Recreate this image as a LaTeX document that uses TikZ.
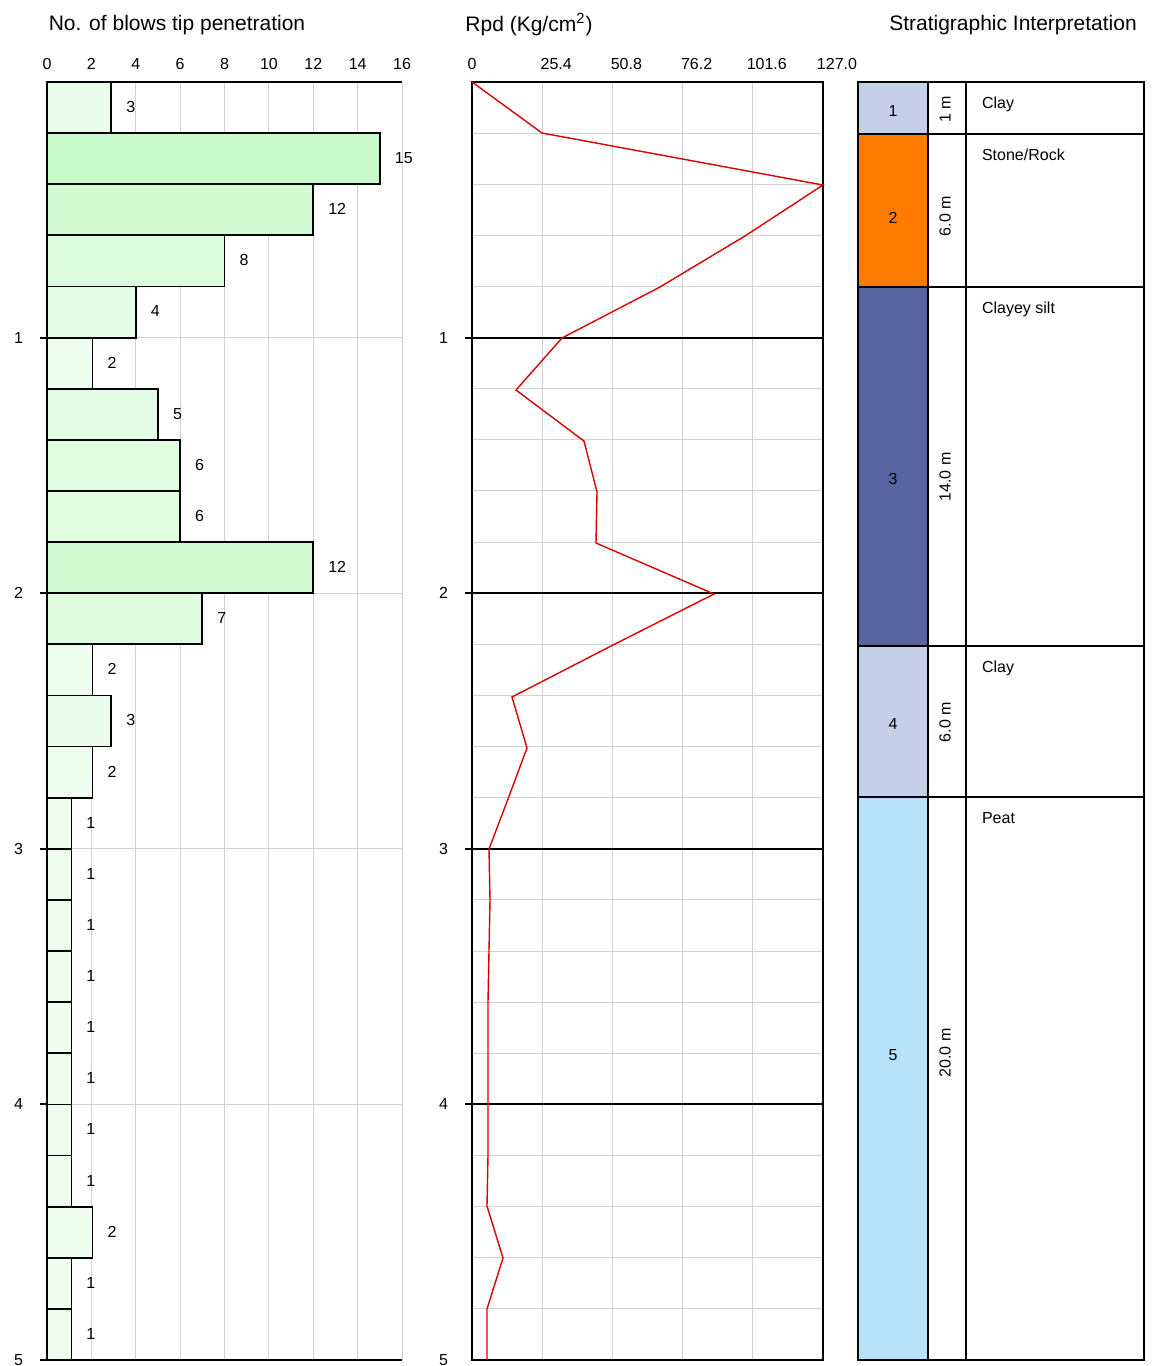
\documentclass[tikz,border=0pt]{standalone}
\usepackage{fontspec}
\setmainfont{Liberation Sans}
\begin{document}
\begin{tikzpicture}[x=0.5pt,y=-0.5pt,
  grid/.style={draw=black!18,line width=0.5pt},
  ax/.style={draw=black,line width=1pt},
  tick/.style={font=\fontsize{8}{9}\selectfont},
  ttl/.style={font=\fontsize{10.5}{12}\selectfont},
  bar/.style={draw=black,line width=0.9pt},
  lbl/.style={font=\fontsize{8}{9}\selectfont,anchor=west},
  strat/.style={draw=black,line width=0.9pt},
  st/.style={font=\fontsize{8}{9}\selectfont}]
\definecolor{mygreen}{RGB}{170,245,170}
\definecolor{lay1}{RGB}{197,208,232}
\definecolor{lay2}{RGB}{255,122,0}
\definecolor{lay3}{RGB}{88,100,160}
\definecolor{lay5}{RGB}{183,226,250}
\useasboundingbox (0,0) rectangle (1152,1366);
% ---- left chart
\node[ttl] (t1) at (177,25) {No. of blows tip penetration};
\foreach \v in {2,4,...,16} \draw[grid] (47+\v*22.19,82) -- (47+\v*22.19,1360);
\foreach \d in {1,2,3,4} \draw[grid] (47,82+\d*255.6) -- (402,82+\d*255.6);
\foreach \v in {0,2,...,16} \node[tick] (lx\v) at (47+\v*22.19,64) {\v};
\foreach \d in {1,2,3,4,5} {\draw[ax] (40,82+\d*255.6) -- (47,82+\d*255.6);
  \node[tick,anchor=east] (ly\d) at (30,82+\d*255.6) {\d};}
\foreach [count=\i from 0] \v in {3,15,12,8,4,2,5,6,6,12,7,2,3,2,1,1,1,1,1,1,1,1,2,1,1} {
  \pgfmathsetmacro\p{15+\v*3.3}
  \pgfmathsetmacro\w{\v==3 ? 2.9 : (\v==2 ? 2.05 : (\v==1 ? 1.1 : \v))}
  \draw[bar,fill=mygreen!\p!white] (47,82+\i*51.12) rectangle (47+\w*22.19,82+\i*51.12+51.12);
  \node[lbl] (bl\i) at (47+\w*22.19+8,82+\i*51.12+25) {\v};}
\draw[ax] (47,82) -- (402,82);
\draw[ax] (47,82) -- (47,1360) -- (402,1360);
% ---- middle chart
\node[ttl] (t2) at (529,25) {Rpd (Kg/cm\textsuperscript{2})};
\node[tick] (mx0) at (472,64) {0};
\foreach \x/\t in {1/25.4,2/50.8,3/76.2,4/101.6,5/127.0} \node[tick] (mx\x) at (486+\x*70.2,64) {\t};
\foreach \x in {1,...,4} \draw[grid] (472+\x*70.2,82) -- (472+\x*70.2,1360);
\foreach \i in {1,...,24} \draw[grid] (472,82+\i*51.12) -- (823,82+\i*51.12);
\foreach \d in {1,2,3,4} {\draw[ax] (465,82+\d*255.6) -- (823,82+\d*255.6);
  \node[tick,anchor=east] (my\d) at (455,82+\d*255.6) {\d};}
\node[tick,anchor=east] (my5) at (455,1360) {5};
\draw[ax] (472,82) rectangle (823,1360);
\draw[red!85!black,line width=0.7pt] (472,82) -- (542,133) -- (823,185) -- (745,236) -- (660,287) -- (562,338) -- (516,390) -- (584,441) -- (597,492) -- (596,543) -- (714,594) -- (613,645) -- (512,697) -- (527,748) -- (508,799) -- (489,849) -- (490,900) -- (489,951) -- (488,1002) -- (488,1053) -- (488,1104) -- (488,1155) -- (487,1206) -- (503,1258) -- (487,1309) -- (487,1360);
% ---- strat column
\node[ttl] (t3) at (1013,25) {Stratigraphic Interpretation};
\foreach \a/\b/\c/\n/\th/\name/\ny in {82/134/lay1/1/1 m/Clay/111,134/287/lay2/2/6.0 m/Stone\slash Rock/218,287/646/lay3/3/14.0 m/Clayey silt/479,646/797/lay1/4/6.0 m/Clay/724,797/1360/lay5/5/20.0 m/Peat/1055} {
  \draw[strat,fill=\c] (858,\a) rectangle (928,\b);
  \draw[strat] (928,\a) rectangle (966,\b);
  \draw[strat] (966,\a) rectangle (1144,\b);
  \node[st] (n\n) at (893,\ny) {\n};
  \node[st,rotate=90] (h\n) at (945,\ny-2) {\th};
  \node[st,anchor=north west] (s\n) at (975,\a+8) {\name};}
\end{tikzpicture}
\end{document}
